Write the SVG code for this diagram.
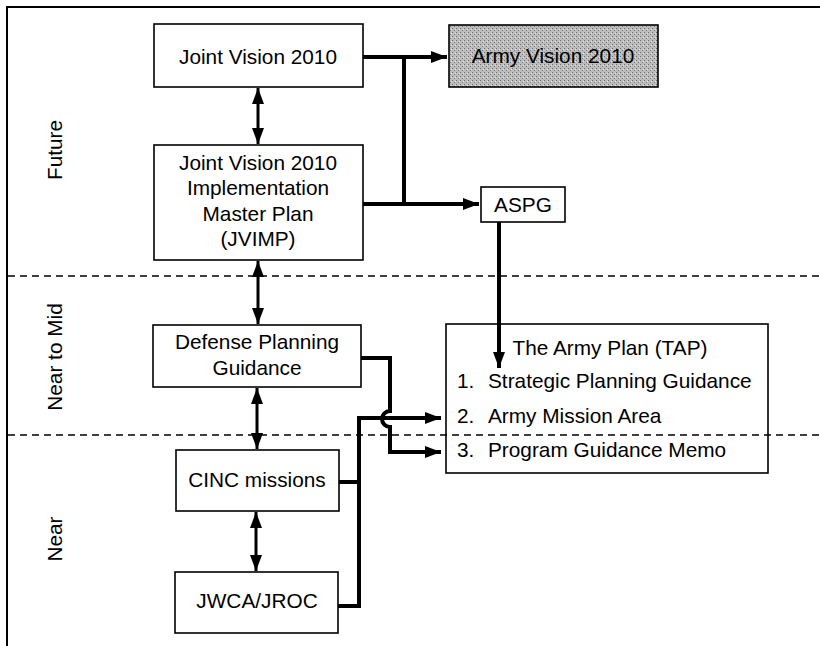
<svg xmlns="http://www.w3.org/2000/svg" width="820" height="646" viewBox="0 0 820 646">
<defs>
<marker id="ah" viewBox="0 0 16 12" refX="16" refY="6" markerWidth="16" markerHeight="12" markerUnits="userSpaceOnUse" orient="auto-start-reverse">
<path d="M0,0 L16,6 L0,12 Z" fill="#000"/>
</marker>
<pattern id="stip" width="4" height="4" patternUnits="userSpaceOnUse">
<rect width="4" height="4" fill="#bdbdbd"/>
<rect x="0" y="0" width="1" height="1" fill="#6e6e6e"/>
<rect x="2" y="2" width="1" height="1" fill="#7a7a7a"/>
<rect x="3" y="1" width="1" height="1" fill="#e6e6e6"/>
</pattern>
<style>
.box{fill:#fff;stroke:#000;stroke-width:1.6}
.t{font-family:"Liberation Sans",Arial,sans-serif;font-size:20.8px;fill:#000}
.c{text-anchor:middle}
.con{fill:none;stroke:#000;stroke-width:4}
.dbl{fill:none;stroke:#000;stroke-width:3;marker-start:url(#ah);marker-end:url(#ah)}
.dash{stroke:#000;stroke-width:1.3;stroke-dasharray:7,5}
</style>
</defs>
<rect width="820" height="646" fill="#fff"/>
<g id="frame">
<line x1="7" y1="7" x2="820" y2="7" stroke="#000" stroke-width="2"/>
<line x1="7" y1="6" x2="7" y2="646" stroke="#000" stroke-width="2"/>
<text class="t c" transform="translate(62,150) rotate(-90)">Future</text>
<text class="t c" transform="translate(62,357) rotate(-90)">Near to Mid</text>
<text class="t c" transform="translate(62,539) rotate(-90)">Near</text>
</g>
<g id="jv2010">
<rect class="box" x="154" y="24" width="209" height="63"/>
<text class="t c" x="258" y="64">Joint Vision 2010</text>
</g>
<g id="jvimp">
<rect class="box" x="154" y="145" width="209" height="115"/>
<text class="t c" x="258" y="170">Joint Vision 2010</text>
<text class="t c" x="258" y="195">Implementation</text>
<text class="t c" x="258" y="221">Master Plan</text>
<text class="t c" x="258" y="246">(JVIMP)</text>
</g>
<g id="armyvision">
<rect x="449" y="25" width="209" height="62" fill="url(#stip)" stroke="#000" stroke-width="1.6"/>
<text class="t c" x="553" y="63">Army Vision 2010</text>
</g>
<g id="aspg">
<rect class="box" x="481" y="187" width="84" height="35"/>
<text class="t c" x="523" y="212">ASPG</text>
</g>
<g id="dpg">
<rect class="box" x="153" y="325" width="208" height="62"/>
<text class="t c" x="257" y="349">Defense Planning</text>
<text class="t c" x="257" y="375">Guidance</text>
</g>
<g id="cinc">
<rect class="box" x="176" y="450" width="163" height="61"/>
<text class="t c" x="257" y="487">CINC missions</text>
</g>
<g id="jwca">
<rect class="box" x="175" y="572" width="163" height="61"/>
<text class="t c" x="257" y="608">JWCA/JROC</text>
</g>
<g id="tap">
<rect x="446" y="324" width="322" height="149" fill="none" stroke="#000" stroke-width="1.6"/>
<text class="t c" x="610" y="355">The Army Plan (TAP)</text>
<text class="t" x="457" y="388">1.</text>
<text class="t" x="488" y="388">Strategic Planning Guidance</text>
<text class="t" x="457" y="423">2.</text>
<text class="t" x="488" y="423">Army Mission Area</text>
<text class="t" x="457" y="457">3.</text>
<text class="t" x="488" y="457">Program Guidance Memo</text>
</g>
<g id="dividers">
<line class="dash" x1="8" y1="276" x2="820" y2="276"/>
<line class="dash" x1="8" y1="435" x2="820" y2="435"/>
</g>
<g id="connectors">
<line class="dbl" x1="258" y1="88" x2="258" y2="144"/>
<line class="dbl" x1="258" y1="261" x2="258" y2="324"/>
<line class="dbl" x1="257" y1="388" x2="257" y2="449"/>
<line class="dbl" x1="256" y1="512" x2="256" y2="571"/>
<path class="con" d="M363,57 H447" marker-end="url(#ah)"/>
<path class="con" d="M404,57 V204"/>
<path class="con" d="M363,204 H479" marker-end="url(#ah)"/>
<path class="con" d="M499,222 V368" marker-end="url(#ah)"/>
<path class="con" d="M361,358 H390 V411 A8,8 0 0 0 390,427 V452 H441" marker-end="url(#ah)"/>
<path class="con" d="M339,482 H359"/>
<path class="con" d="M338,606 H359 V418 H441" marker-end="url(#ah)"/>
</g>
</svg>
